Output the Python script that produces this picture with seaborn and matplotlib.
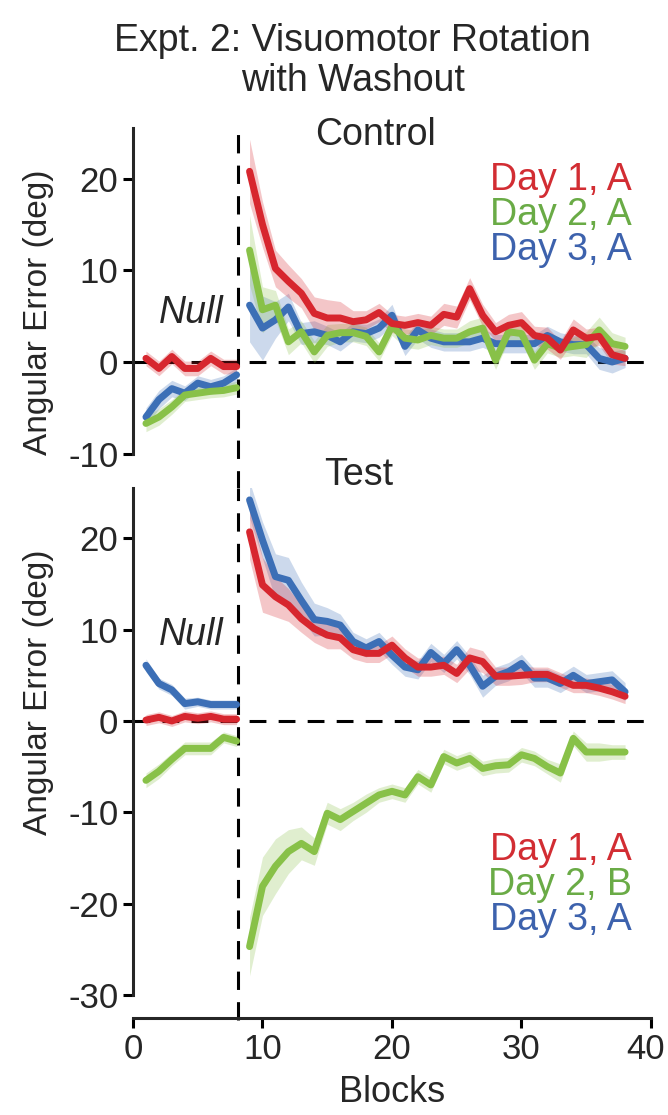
import pandas as pd
import seaborn as sns
import matplotlib.pyplot as plt
import matplotlib.transforms as mtransforms

# =========================================
# DATA
# =========================================
null_blocks = [1, 2, 3, 4, 5, 6, 7, 8]
rot_blocks = list(range(9, 39))

# Control group
ctrl_null_day1 = [0.4, -0.7, 0.6, -0.7, -0.7, 0.4, -0.5, -0.5]
ctrl_null_day2 = [-6.7, -6.0, -4.9, -3.6, -3.4, -3.2, -3.1, -2.8]
ctrl_null_day3 = [-6.0, -4.1, -2.9, -3.4, -2.3, -2.7, -2.3, -1.4]
ctrl_rot_day1 = [20.8, 15.0, 10.2, 8.8, 7.5, 5.3, 4.8, 4.8, 4.4, 4.6,
                 5.4, 4.2, 4.0, 4.3, 4.0, 5.2, 4.9, 8.0, 5.1, 3.3,
                 4.0, 4.3, 2.9, 2.6, 1.3, 3.5, 2.6, 2.8, 0.8, 0.4]
ctrl_rot_day2 = [12.2, 5.7, 6.2, 2.2, 3.3, 1.1, 2.9, 3.2, 3.2, 2.8,
                 1.1, 3.9, 2.6, 2.4, 2.9, 2.6, 2.6, 3.3, 3.7, 0.2,
                 3.3, 3.1, 0.2, 2.0, 1.5, 1.7, 1.9, 3.5, 2.0, 1.7]
ctrl_rot_day3 = [6.2, 3.7, 4.6, 6.0, 3.1, 3.3, 2.9, 2.2, 3.3, 3.1,
                 3.7, 5.1, 1.7, 3.5, 2.6, 2.2, 2.2, 2.2, 2.6, 2.0,
                 2.0, 2.0, 2.0, 2.9, 2.2, 1.9, 1.9, 0.4, 0.0, 0.4]
# shaded band half-widths
ctrl_null_day1_sem = [0.8, 0.8, 0.8, 0.8, 0.8, 0.8, 0.8, 0.8]
ctrl_null_day2_sem = [0.9, 0.9, 0.8, 0.7, 0.7, 0.7, 0.7, 0.7]
ctrl_null_day3_sem = [1.0, 1.0, 0.9, 0.8, 0.8, 0.8, 0.8, 0.8]
ctrl_rot_day1_sem = [3.5, 2.5, 2.0, 1.8, 1.6, 1.8, 2.0, 1.8, 1.2, 1.0,
                     1.0, 1.0, 1.0, 1.0, 1.0, 1.2, 1.2, 1.2, 1.2, 1.0,
                     1.2, 1.2, 1.0, 1.2, 1.0, 1.2, 1.0, 1.0, 1.0, 0.8]
ctrl_rot_day2_sem = [3.8, 2.5, 1.6, 1.4, 1.2, 1.2, 1.2, 1.0, 1.0, 1.0,
                     1.0, 1.0, 1.0, 1.0, 1.0, 1.0, 1.0, 1.2, 1.2, 1.0,
                     1.0, 1.0, 1.0, 1.0, 1.0, 1.0, 1.4, 1.4, 1.2, 1.0]
ctrl_rot_day3_sem = [4.0, 3.5, 2.0, 1.5, 1.2, 1.2, 1.0, 1.0, 1.0, 1.0,
                     1.0, 1.2, 1.0, 1.0, 1.0, 1.0, 1.0, 1.0, 1.0, 1.0,
                     1.0, 1.0, 1.0, 1.0, 1.0, 1.0, 1.0, 1.2, 1.2, 1.0]

# Test group
test_null_day1 = [0.1, 0.4, 0.0, 0.5, 0.3, 0.5, 0.2, 0.2]
test_null_day2 = [-6.5, -5.5, -4.2, -3.0, -3.0, -3.0, -1.8, -2.2]
test_null_day3 = [6.1, 4.1, 3.4, 1.9, 2.1, 1.8, 1.8, 1.8]
test_rot_day1 = [20.7, 14.9, 13.6, 12.7, 11.2, 10.1, 9.4, 9.1, 7.8, 7.4,
                 7.4, 8.3, 6.9, 5.9, 5.9, 6.1, 5.2, 6.9, 6.5, 4.9,
                 4.9, 5.0, 5.1, 5.1, 4.5, 3.9, 3.9, 3.6, 3.2, 2.7]
test_rot_day2 = [-24.7, -18.1, -15.9, -14.3, -13.4, -14.3, -10.1, -10.8, -9.9, -9.0,
                 -8.1, -7.7, -8.1, -6.1, -7.0, -3.9, -4.6, -4.1, -5.2, -4.9,
                 -4.8, -3.7, -4.1, -5.0, -5.7, -1.9, -3.4, -3.4, -3.4, -3.4]
test_rot_day3 = [24.2, 19.8, 15.8, 15.4, 13.2, 11.1, 10.9, 10.5, 8.7, 8.0,
                 8.7, 7.2, 5.9, 5.6, 7.5, 6.3, 7.8, 6.1, 3.8, 4.9,
                 5.4, 6.3, 4.7, 4.7, 4.1, 5.0, 4.1, 4.3, 4.5, 3.2]
test_null_day1_sem = [0.6, 0.6, 0.6, 0.6, 0.6, 0.6, 0.6, 0.6]
test_null_day2_sem = [0.8, 0.8, 0.7, 0.7, 0.7, 0.7, 0.6, 0.6]
test_null_day3_sem = [0.7, 0.6, 0.6, 0.6, 0.5, 0.5, 0.5, 0.5]
test_rot_day1_sem = [3.0, 3.0, 2.2, 1.8, 1.5, 1.5, 1.5, 1.2, 1.0, 1.0,
                     1.0, 1.0, 1.0, 1.0, 1.0, 1.0, 1.0, 1.2, 1.2, 1.0,
                     1.0, 1.0, 0.8, 0.8, 0.8, 0.8, 0.8, 0.8, 0.8, 0.8]
test_rot_day2_sem = [3.2, 3.2, 3.0, 2.4, 1.8, 1.5, 1.2, 1.2, 1.0, 1.0,
                     0.8, 0.8, 0.8, 0.8, 0.8, 0.8, 0.8, 0.8, 0.8, 0.8,
                     0.8, 0.8, 0.8, 0.8, 1.0, 0.8, 1.0, 1.0, 0.8, 0.8]
test_rot_day3_sem = [2.0, 2.0, 2.5, 2.5, 2.0, 1.8, 1.5, 1.2, 1.0, 1.0,
                     1.0, 1.0, 1.0, 1.0, 1.0, 1.0, 1.0, 1.0, 1.2, 1.0,
                     1.0, 1.0, 1.0, 1.0, 1.0, 1.0, 1.0, 1.0, 1.0, 1.0]

line_colors = {'Day 1': '#d7262e', 'Day 2': '#88c148', 'Day 3': '#3c6fb6'}
text_colors = {'Day 1': '#d22d33', 'Day 2': '#6aab46', 'Day 3': '#3d62ad'}


def build_frame(series):
    rows = []
    for day, (null_v, rot_v, null_s, rot_s) in series.items():
        for b, v, s in zip(null_blocks, null_v, null_s):
            rows.append((day, 'null', b, v, s))
        for b, v, s in zip(rot_blocks, rot_v, rot_s):
            rows.append((day, 'rot', b, v, s))
    return pd.DataFrame(rows, columns=['day', 'phase', 'block', 'err', 'sem'])


ctrl_df = build_frame({
    'Day 1': (ctrl_null_day1, ctrl_rot_day1, ctrl_null_day1_sem, ctrl_rot_day1_sem),
    'Day 2': (ctrl_null_day2, ctrl_rot_day2, ctrl_null_day2_sem, ctrl_rot_day2_sem),
    'Day 3': (ctrl_null_day3, ctrl_rot_day3, ctrl_null_day3_sem, ctrl_rot_day3_sem),
})
test_df = build_frame({
    'Day 1': (test_null_day1, test_rot_day1, test_null_day1_sem, test_rot_day1_sem),
    'Day 2': (test_null_day2, test_rot_day2, test_null_day2_sem, test_rot_day2_sem),
    'Day 3': (test_null_day3, test_rot_day3, test_null_day3_sem, test_rot_day3_sem),
})

# =========================================
# STYLE
# =========================================
sns.set_theme(style='ticks')
plt.rcParams['font.family'] = ['Liberation Sans', 'DejaVu Sans']
plt.rcParams['axes.unicode_minus'] = False
FS = 27        # titles, panel names, legend text
TICK_FS = 25   # tick labels
LABEL_FS = 24  # axis labels
SPINE_W = 2.2

fig = plt.figure(figsize=(6.68, 11.15), dpi=100)
ax_top = fig.add_axes([0.1991, 0.5931, 0.7754, 0.2919])
ax_bot = fig.add_axes([0.1991, 0.1076, 0.7754, 0.4547])


def draw_panel(ax, df):
    ax.axhline(0, color='black', lw=2.2, ls=(0, (5.5, 4)), zorder=1.5)
    for day in ['Day 3', 'Day 2', 'Day 1']:
        sub = df[df['day'] == day]
        for _, g in sub.groupby('phase'):
            ax.fill_between(g['block'], g['err'] - g['sem'], g['err'] + g['sem'],
                            color=line_colors[day], alpha=0.26, lw=0, zorder=2)
        sns.lineplot(data=sub, x='block', y='err', units='phase', estimator=None,
                     color=line_colors[day], lw=5, ax=ax, zorder=3, legend=False)
    ax.set_xlim(0, 40)
    ax.set_xlabel('')
    ax.set_ylabel('Angular Error (deg)', fontsize=LABEL_FS)
    for side in ['top', 'right']:
        ax.spines[side].set_visible(False)
    ax.spines['left'].set_linewidth(SPINE_W)
    ax.spines['bottom'].set_linewidth(SPINE_W)
    ax.tick_params(axis='both', labelsize=TICK_FS, width=SPINE_W, length=7, color='black')


draw_panel(ax_top, ctrl_df)
draw_panel(ax_bot, test_df)

# top panel (Control)
ax_top.set_ylim(-10, 25.5)
ax_top.set_yticks([-10, 0, 10, 20])
ax_top.spines['bottom'].set_visible(False)
ax_top.tick_params(axis='x', bottom=False, labelbottom=False)
ax_top.axvline(8.1, ymin=-0.11, ymax=1, color='black', lw=2.2, ls=(0, (6, 4)),
               clip_on=False, zorder=1.5)
ax_top.yaxis.set_label_coords(-0.152, 0.436)
ax_top.text(18.7, 24.8, 'Control', fontsize=FS, ha='center', va='center')
ax_top.text(4.5, 5.3, 'Null', fontsize=FS, style='italic', ha='center', va='center')
for day, yv, lab in [('Day 1', 19.8, 'Day 1, A'), ('Day 2', 16.0, 'Day 2, A'),
                     ('Day 3', 12.2, 'Day 3, A')]:
    ax_top.text(38.5, yv, lab, color=text_colors[day], fontsize=FS, ha='right', va='center')

# bottom panel (Test)
ax_bot.set_ylim(-30, 25.5)
ax_bot.set_yticks([-30, -20, -10, 0, 10, 20])
ax_bot.set_xticks([0, 10, 20, 30, 40])
ax_bot.spines['bottom'].set_position(('outward', 16.5))
ax_bot.axvline(8.1, ymin=-0.05, ymax=1, color='black', lw=2.2, ls=(0, (6, 4)),
               clip_on=False, zorder=1.5)
ax_bot.set_xlabel('Blocks', fontsize=LABEL_FS + 2)
ax_bot.xaxis.set_label_coords(0.5, -0.158)
ax_bot.yaxis.set_label_coords(-0.152, 0.598)
ax_bot.text(17.4, 26.9, 'Test', fontsize=FS, ha='center', va='center')
ax_bot.text(4.5, 9.4, 'Null', fontsize=FS, style='italic', ha='center', va='center')
for day, yv, lab in [('Day 1', -14.1, 'Day 1, A'), ('Day 2', -18.0, 'Day 2, B'),
                     ('Day 3', -21.8, 'Day 3, A')]:
    ax_bot.text(38.5, yv, lab, color=text_colors[day], fontsize=FS, ha='right', va='center')

# the last x tick label sits at the figure edge; nudge it inside a little
last_lab = ax_bot.get_xticklabels()[-1]
last_lab.set_transform(last_lab.get_transform()
                       + mtransforms.ScaledTranslation(-0.05, 0, fig.dpi_scale_trans))

fig.text(0.528, 0.9543, 'Expt. 2: Visuomotor Rotation', fontsize=FS, ha='center', va='baseline')
fig.text(0.528, 0.9184, 'with Washout', fontsize=FS, ha='center', va='baseline')

fig.savefig('out.png', dpi=100)
